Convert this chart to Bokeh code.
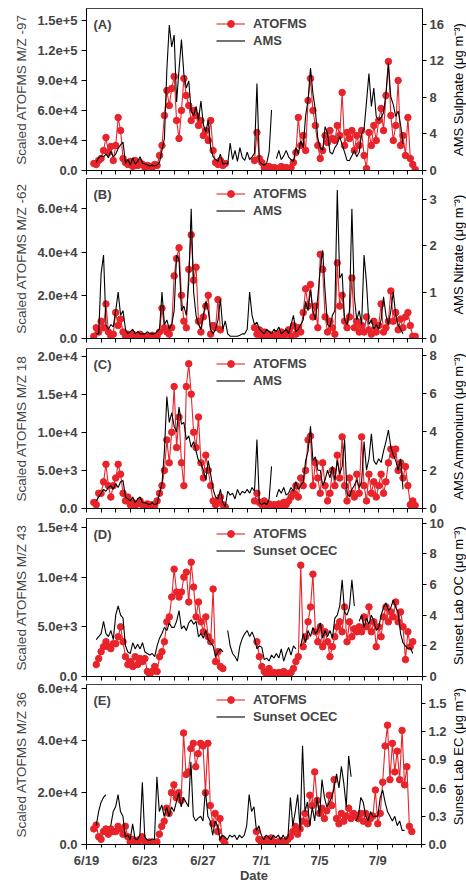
import numpy as np
from bokeh.plotting import figure
from bokeh.models import Range1d, LinearAxis, FixedTicker, Legend, LegendItem, Label
from bokeh.core.properties import value
from bokeh.layouts import column, row
from bokeh.embed import file_html
from bokeh.resources import INLINE

nan = float("nan")

# sampling: days since 6/19 00:00, every 4 h from 6/19 12:00
t_start_day = 0.5
t_step_day = 1.0 / 6.0

x_tick_pos = [0, 4, 8, 12, 16, 20]
x_tick_labels = ["6/19", "6/23", "6/27", "7/1", "7/5", "7/9"]
x_minor_days = list(range(0, 24))

# ---------------- (A) sulphate ----------------
A_atofms = [7000, 6000, 10000,
    12000, 20000, 33000, 18000, 24000, 10000,
    25000, 53000, 40000, 12000, 8000, 6000,
    9000, 4000, 10000, 5000, 8000, 6000,
    3000, 5000, 4000, 3000, 6000, 5000,
    15000, 25000, 55000, 80000, 65000, 82000,
    94000, 50000, 32000, 60000, 92000, 75000,
    65000, 50000, 60000, 55000, 45000, 50000,
    35000, 40000, 30000, 50000, 20000, 8000,
    6000, 10000, 5000, 7000, nan, nan,
    nan, nan, nan, nan, nan, nan,
    nan, nan, nan, 10000, 38000, 12000,
    8000, 3000, 2000, 4000, 1000, 3000,
    2000, 1000, 4000, 2000, 3000, 1000,
    3000, 8000, 18000, 53000, 25000, 35000,
    20000, 70000, 92000, 60000, 45000, 25000,
    12000, 20000, 35000, 28000, 40000, 32000,
    30000, 45000, 35000, 78000, 25000, 38000,
    32000, 40000, 20000, 35000, 25000, 40000,
    15000, 2000, 38000, 25000, 45000, 30000,
    50000, 62000, 40000, 75000, 109000, 55000,
    30000, 45000, 90000, 25000, 35000, 15000,
    53000, 12000, 6000, 1000]
A_ams = [nan, 0.9, 1.4,
    1.6, 1.5, 1.8, 1.4, 2.1, 1.5,
    1.8, 2.4, 2.8, 3.1, 0.8, 1.2,
    0.6, 1.4, 0.7, 1.0, 1.5, 0.8,
    0.7, 0.6, 0.5, 0.6, 0.5, 0.6,
    0.9, 2.2, 3.5, 11.0, 15.9, 13.5,
    14.8, 7.5, 11.0, 14.3, 10.5, 9.0,
    9.8, 6.5, 6.0, 7.0, 5.5, 7.6,
    5.0, 4.2, 5.5, 2.5, 1.5, 1.2,
    1.0, 1.8, 0.7, 0.8, 0.7, 3.0,
    1.2, 2.2, 1.0, 2.5, 1.4, 1.1,
    2.0, 1.2, 1.5, 1.9, 9.5, 1.0,
    0.7, 0.6, 0.8, 2.0, 6.6, nan,
    1.3, 2.2, 1.2, 1.6, 2.2, 1.5,
    1.2, 1.0, 2.5, 1.8, 3.2, 2.5,
    6.0, 7.7, 11.2, 8.4, 6.6, 3.5,
    2.5, 2.2, 4.8, 4.0, 2.0, 1.8,
    2.5, 2.9, 3.7, 2.8, 2.0, 1.1,
    1.1, 1.6, 2.2, 1.5, 2.0, 4.0,
    4.5, 7.5, 10.6, 7.0, 9.0, 5.9,
    5.5, 5.8, 6.3, 8.5, 11.7, 8.0,
    7.2, 5.9, 6.5, 5.0, 2.9, nan,
    nan, nan, nan, nan]

# ---------------- (B) nitrate ----------------
B_atofms = [1000, 5000, 3000,
    8000, 5000, 16000, 3000, 1000, 2000,
    12000, 6000, 9000, 3000, 1000, 2000,
    1000, 2000, 1000, 1500, 2000, 1000,
    500, 1000, 500, 1500, 500, 1000,
    3000, 14000, 5000, 3000, 2000, 5000,
    29000, 37000, 42000, 20000, 8000, 5000,
    32000, 48000, 27000, 33000, 8000, 3000,
    10000, 15000, 20000, 2000, 6000, 5000,
    18000, 4000, nan, nan, nan, nan,
    nan, nan, nan, nan, nan, nan,
    nan, nan, nan, 5000, 2000, 4000,
    1000, 3000, 1000, 2000, 500, 1000,
    2000, 1000, 3000, 1500, 2000, 4000,
    1000, 6000, 2000, 5000, 3000, 12000,
    23000, 15000, 25000, 10000, 15000, 5000,
    39000, 32000, 10000, 3000, 8000, 5000,
    2000, 35000, 15000, 20000, 8000, 5000,
    10000, 28000, 5000, 8000, 3000, 6000,
    3000, 10000, 4000, 2000, 8000, 3000,
    6000, 16000, 3000, 5000, 8000, 22000,
    8000, 12000, 4000, 9000, 5000, 10000,
    12000, 6000, 1000, 1000]
B_ams = [nan, 0.1, 0.1,
    1.4, 1.8, 0.3, 0.2, 0.3, 0.25,
    0.6, 1.0, 0.5, 0.6, 0.2, 0.1,
    0.15, 0.2, 0.1, 0.15, 0.1, 0.1,
    0.1, 0.15, 0.1, 0.1, 0.1, 0.15,
    0.2, 1.0, 0.3, 0.4, 0.2, 0.3,
    0.6, 1.8, 1.7, 0.6, 0.7, 0.5,
    1.2, 2.8, 1.0, 0.5, 0.3, 0.2,
    0.5, 0.8, 0.6, 0.2, 0.1, 0.2,
    0.4, 0.85, 0.2, 0.38, 0.1, 0.05,
    0.05, 0.05, 0.05, 0.07, 0.1, 0.1,
    0.2, 1.0, 0.5, 0.3, 0.35, 0.2,
    0.15, 0.1, 0.2, 0.15, 0.1, 0.2,
    0.15, 0.25, 0.1, 0.15, 0.2, 0.1,
    0.3, 0.5, 0.15, 0.2, 0.3, 0.4,
    0.8, 0.6, 1.05, 0.6, 0.4, 0.9,
    1.5, 1.9, 1.0, 0.3, 0.25, 0.5,
    0.6, 3.2, 1.3, 1.4, 0.4, 0.3,
    0.6, 2.8, 0.9, 0.4, 0.6, 0.3,
    1.8, 1.2, 0.3, 0.4, 0.2, 0.3,
    0.2, 0.4, 0.9, 0.5, 0.3, 0.6,
    1.0, 0.5, 0.3, 0.2, 0.1, nan,
    nan, nan, nan, nan]

# ---------------- (C) ammonium ----------------
C_atofms = [800, 500, 2000,
    2000, 3500, 5800, 3000, 1500, 3000,
    4000, 5800, 4500, 2000, 1000, 1500,
    500, 800, 400, 600, 1000, 500,
    400, 600, 300, 500, 400, 1000,
    2000, 3000, 5000, 9000, 6000, 10000,
    16000, 8000, 12000, 6000, 3000, 16000,
    19000, 15000, 10000, 8000, 12000, 6000,
    4000, 7000, 5000, 3000, 1000, 500,
    1000, 1500, 500, 200, nan, nan,
    nan, nan, nan, nan, nan, nan,
    nan, nan, nan, 1000, 2000, 800,
    500, 1000, 400, 600, 300, 500,
    400, 600, 300, 800, 500, 1000,
    1500, 2000, 3000, 1500, 4000, 3000,
    5000, 9000, 9500, 3000, 6000, 4000,
    2000, 6000, 3000, 1000, 2000, 5000,
    3000, 7000, 4000, 9400, 3000, 1000,
    4000, 2000, 1500, 4500, 2000, 9400,
    3000, 1000, 4500, 2000, 3500, 1500,
    3000, 4500, 2000, 3500, 6000, 7800,
    7000, 7800, 5000, 6000, 4000, 5500,
    3000, 500, 1000, 400]
C_ams = [nan, 0.4, 0.6,
    0.8, 1.0, 0.9, 1.1, 1.2, 1.0,
    1.3, 1.1, 1.4, 1.46, 0.6, 0.5,
    0.4, 0.6, 0.3, 0.5, 0.6, 0.3,
    0.3, 0.25, 0.2, 0.3, 0.2, 0.25,
    0.8, 1.3, 3.0, 5.85, 4.5, 5.0,
    4.3, 4.0, 5.3, 4.4, 4.5, 3.6,
    3.8, 3.2, 3.5, 3.0, 2.5, 2.4,
    2.0, 1.5, 2.5, 1.8, 1.0, 0.6,
    0.5, 1.0, 0.3, 0.1, 0.9, 0.7,
    0.8, 0.5, 1.0, 0.7, 0.9, 0.8,
    1.0, 0.8, 1.1, 0.9, 3.6, 0.3,
    0.2, 0.3, 0.2, 0.5, 2.2, nan,
    0.6, 1.0, 0.8, 1.1, 0.7, 0.8,
    1.1, 0.9, 1.4, 1.0, 1.2, 1.4,
    2.5, 3.0, 4.3, 2.5, 2.7, 2.0,
    2.0, 1.2, 1.5, 2.0, 1.6, 2.2,
    1.5, 2.5, 1.8, 2.2, 3.6, 0.8,
    0.6, 1.0, 1.2, 1.5, 1.1, 1.4,
    3.5, 2.0, 2.6, 3.9, 2.5, 2.3,
    2.6, 2.4, 3.0, 3.5, 4.1, 3.2,
    2.8, 2.5, 2.0, 2.6, 1.0, nan,
    nan, nan, nan, nan]

# ---------------- (D) organic carbon ----------------
D_atofms = [nan, 1200, 1800,
    2500, 3000, 3500, 3000, 2800, 3300,
    3300, 4000, 5000, 3500, 2000, 1200,
    1500, 1000, 2000, 1200, 1800, 1500,
    1800, 500, 200, 500, 1000, 500,
    2000, 2500, 3500, 5500, 6000, 8000,
    10800, 8500, 8000, 8500, 10000, 10500,
    7500, 11500, 9000, 6000, 7500, 5500,
    4500, 6000, 4000, 3500, 8800, 1500,
    2500, 1000, 800, nan, nan, nan,
    nan, nan, nan, nan, nan, nan,
    nan, nan, nan, nan, 3500, 2000,
    1000, 500, 200, 800, 0, 400,
    300, 400, 200, 500, 300, 200,
    400, 800, 1500, 2000, 11200, 3000,
    4000, 5500, 7000, 10300, 4500, 3500,
    5000, 3000, 4500, 3500, 2000, 3000,
    4000, 5000, 5500, 4500, 7000, 3500,
    5500, 4000, 4800, 4500, 5000, 4500,
    6000, 5000, 7000, 4500, 5500, 3000,
    5000, 4000, 6000, 7000, 5500, 6500,
    6000, 7500, 5500, 6500, 5000, 1700,
    4500, 3000, 3500, nan]
D_oc = [nan, 2.4, 2.6,
    2.8, 3.6, 2.8, 2.6, 3.0, 2.4,
    4.0, 4.6, 4.0, 3.8, 2.0, 1.6,
    1.5, 2.2, 1.8, 2.1, 1.8, 2.2,
    1.6, 1.5, 1.4, 1.5, 1.3, 2.0,
    2.5, 2.8, 3.2, 3.0, 3.5, 3.2,
    3.2, 3.6, 4.3, 3.1, 3.3, 3.0,
    3.5, 3.7, 3.4, 3.6, 2.6, 2.8,
    2.5, 3.0, 2.4, 2.2, 2.0, 1.3,
    1.6, 1.8, 1.6, nan, 3.0, 2.0,
    1.5, 1.3, 1.0, 2.0, 2.5, 2.8,
    3.0, 2.6, 2.9, 2.5, 1.8, 2.0,
    1.9, 1.1, 1.2, 1.0, 1.4, 1.2,
    1.5, 1.2, 1.8, 1.0, 1.5, 1.9,
    1.4, 2.0, 1.8, nan, 2.0, 2.8,
    2.2, 3.0, 2.6, 3.2, 2.8, 3.0,
    3.5, 2.5, 3.0, 2.6, 3.0, 2.5,
    3.8, 4.0, 4.6, 6.3, 4.2, 4.0,
    4.5, 6.3, 4.6, nan, 3.6, 4.0,
    3.2, 3.8, 3.4, 4.0, 3.6, 3.0,
    3.2, 4.0, 4.5, 4.8, 4.3, 4.5,
    5.0, 4.5, 4.2, 2.8, 2.2, 2.0,
    1.8, 1.9, 1.5, nan]

# ---------------- (E) elemental carbon ----------------
E_atofms = [6000, 7500, 3000,
    2000, 5000, 6000, 4000, 6000, 5000,
    5000, 7000, 6000, 4000, 7000, 3000,
    1000, 2000, 1500, 500, 2000, 3000,
    1000, 500, 1000, 500, 200, 1000,
    4000, 7000, 9000, 14000, 12000, 20000,
    23000, 18000, 20000, 17000, 43000, 27000,
    28000, 37000, 39000, 30000, 35000, 39000,
    38000, 20000, 39000, 15000, 8000, 12000,
    5000, 10000, 2000, 500, nan, nan,
    nan, nan, nan, nan, nan, nan,
    nan, nan, nan, nan, 5000, 2000,
    1000, 500, 2000, 800, 2500, 1000,
    500, 1000, 1500, 500, 1000, 2000,
    3000, 5000, 7000, 4000, 6000, 9000,
    12000, 8000, 19000, 15000, 28000, 17000,
    12000, 14000, 10000, 13000, 19000, 15000,
    25000, 10000, 8000, 12000, 9000, 11000,
    14000, 10000, 12000, 11000, 10000, 12000,
    9000, 12000, 8000, 10000, 11000, 21000,
    8000, 12000, 24000, 38000, 46000, 25000,
    39000, 28000, 36000, 25000, 44000, 23000,
    30000, 7000, 5000, nan]
E_ec = [nan, 0.2, 0.35,
    0.45, 0.5, 0.53, nan, 0.2, 0.35,
    0.4, 0.53, 0.35, 0.3, 0.08, 0.1,
    0.05, 0.22, 0.06, 0.05, 0.1, 0.66,
    0.08, 0.05, 0.04, 0.06, 0.05, 0.72,
    0.35, 0.42, 0.3, 0.4, 0.3, 0.4,
    0.35, 0.45, 0.55, 0.4, 0.5, 0.45,
    0.4, 0.88, 0.3, 0.25, 0.28, 0.3,
    0.25, 0.58, 0.3, 0.25, 0.1, 0.25,
    0.2, 0.05, 0.1, 0.08, 0.05, 0.1,
    0.08, 0.1, 0.05, 0.1, 0.07, 0.1,
    0.2, 0.53, 0.35, 0.4, 0.15, 0.2,
    0.1, 0.05, 0.1, 0.08, 0.05, 0.1,
    0.07, 0.1, 0.05, 0.1, 0.05, 0.08,
    0.5, 0.2, 0.35, 0.53, 0.15, 1.05,
    0.35, 0.45, 0.2, 0.4, 0.25, 0.5,
    0.3, 0.69, 0.5, 0.4, 0.45, 0.5,
    0.6, 0.75, 0.6, 0.83, 0.65, 0.4,
    0.94, 0.72, nan, 0.25, 0.3, 0.5,
    0.45, 0.3, 0.25, 0.35, 0.3, 0.3,
    0.3, 0.5, 0.58, 0.45, 0.35, 0.3,
    0.25, 0.3, 0.2, 0.25, 0.15, 0.15,
    nan, nan, nan, nan]

panel_tags = ["(A)", "(B)", "(C)", "(D)", "(E)"]
left_titles = ["Scaled ATOFMS M/Z -97", "Scaled ATOFMS M/Z -62", "Scaled ATOFMS M/Z 18",
               "Scaled ATOFMS M/Z 43", "Scaled ATOFMS M/Z 36"]
right_titles = ["AMS Sulphate (\u03bcg m\u207b\u00b3)", "AMS Nitrate (\u03bcg m\u207b\u00b3)",
                "AMS Ammonium (\u03bcg m\u207b\u00b3)", "Sunset Lab OC (\u03bcg m\u207b\u00b3)",
                "Sunset Lab EC (\u03bcg m\u207b\u00b3)"]
ref_names = ["AMS", "AMS", "AMS", "Sunset OCEC", "Sunset OCEC"]
left_max = [1.62e5, 7.41e4, 2.1e4, 1.59e4, 6.17e4]
right_max = [17.7, 3.45, 8.36, 10.3, 1.70]
left_ticks = [[0, 30000, 60000, 90000, 120000, 150000],
              [0, 20000, 40000, 60000],
              [0, 5000, 10000, 15000, 20000],
              [0, 5000, 10000, 15000],
              [0, 20000, 40000, 60000]]
left_tick_labels = [["0.0", "3.0e+4", "6.0e+4", "9.0e+4", "1.2e+5", "1.5e+5"],
                    ["0.0", "2.0e+4", "4.0e+4", "6.0e+4"],
                    ["0.0", "5.0e+3", "1.0e+4", "1.5e+4", "2.0e+4"],
                    ["0.0", "5.0e+3", "1.0e+4", "1.5e+4"],
                    ["0.0", "2.0e+4", "4.0e+4", "6.0e+4"]]
right_ticks = [[0, 4, 8, 12, 16], [0, 1, 2, 3], [0, 2, 4, 6, 8], [0, 2, 4, 6, 8, 10],
               [0, 0.3, 0.6, 0.9, 1.2, 1.5]]
right_tick_labels = [["0", "4", "8", "12", "16"], ["0", "1", "2", "3"], ["0", "2", "4", "6", "8"],
                     ["0", "2", "4", "6", "8", "10"], ["0.0", "0.3", "0.6", "0.9", "1.2", "1.5"]]
atofms_series = [A_atofms, B_atofms, C_atofms, D_atofms, E_atofms]
ref_series = [A_ams, B_ams, C_ams, D_oc, E_ec]

# layout (pixels)
MAIN_W = 449
STRIP_W = 466 - MAIN_W
fig_h = [178, 168, 169, 168, 202]
border_top = [8, 0, 2, 3, 1]
border_bot = [8, 8, 7, 7, 41]
right_title_shift = [0, 0, 0, 0, -10]

RED = "#e8232a"
FONT = "Liberation Sans"

n = len(A_atofms)
t = t_start_day + np.arange(n) * t_step_day

rows = []
for i in range(5):
    fh = fig_h[i] - border_top[i] - border_bot[i]
    p = figure(width=MAIN_W, height=fig_h[i], x_range=Range1d(0, 23), y_range=Range1d(0, left_max[i]),
               output_backend="svg", toolbar_location=None,
               min_border_left=86, min_border_right=MAIN_W - 422,
               min_border_top=border_top[i], min_border_bottom=border_bot[i])
    p.extra_y_ranges = {"r": Range1d(0, right_max[i])}
    p.xgrid.visible = False
    p.ygrid.visible = False
    p.outline_line_color = "#444444"
    p.background_fill_color = "white"
    p.border_fill_color = "white"

    atof = np.array(atofms_series[i], dtype=float)
    ref = np.array(ref_series[i], dtype=float)
    lr = p.line(t, atof, line_color=RED, line_width=1.1)
    p.scatter(t, atof, size=6.5, fill_color=RED, line_color=RED)
    br = p.line(t, ref, y_range_name="r", line_color="black", line_width=1.1)
    # small marker used only as legend swatch (outside the visible x range)
    sw = p.scatter([-5.0], [0.0], size=5, fill_color=RED, line_color=RED)

    # x axis
    xa = p.xaxis[0]
    xa.major_tick_in = 0
    xa.minor_tick_in = 0
    xa.axis_line_color = "black"
    if i < 4:
        xa.ticker = FixedTicker(ticks=[], minor_ticks=x_minor_days)
        xa.minor_tick_out = 4
    else:
        xa.ticker = FixedTicker(ticks=x_tick_pos, minor_ticks=x_minor_days)
        xa.major_label_overrides = {k: v for k, v in zip(x_tick_pos, x_tick_labels)}
        xa.major_tick_out = 5
        xa.minor_tick_out = 3
        xa.major_label_text_font = FONT
        xa.major_label_text_font_style = "bold"
        xa.major_label_text_font_size = "13px"
        xa.major_label_standoff = 3
        xa.axis_label = "Date"
        xa.axis_label_text_font = FONT
        xa.axis_label_text_font_size = "13px"
        xa.axis_label_text_font_style = "bold"
        xa.axis_label_standoff = -3

    # left axis
    ya = p.yaxis[0]
    ya.ticker = FixedTicker(ticks=left_ticks[i], minor_ticks=[])
    ya.major_label_overrides = {k: v for k, v in zip(left_ticks[i], left_tick_labels[i])}
    ya.major_tick_out = 5
    ya.major_tick_in = 0
    ya.axis_line_color = "black"
    ya.major_label_text_font = FONT
    ya.major_label_text_font_size = "13px"
    ya.major_label_text_font_style = "bold"
    ya.major_label_standoff = 4
    ya.axis_label = left_titles[i]
    ya.axis_label_text_font = FONT
    ya.axis_label_text_font_size = "13.5px"
    ya.axis_label_text_font_style = "normal"
    ya.axis_label_standoff = 5

    # right axis (ticks and numbers; its title is drawn in the strip beside it)
    ra = LinearAxis(y_range_name="r", ticker=FixedTicker(ticks=right_ticks[i], minor_ticks=[]))
    ra.major_label_overrides = {k: v for k, v in zip(right_ticks[i], right_tick_labels[i])}
    ra.major_tick_out = 4
    ra.major_tick_in = 0
    ra.axis_line_color = "black"
    ra.major_label_text_font = FONT
    ra.major_label_text_font_size = "13px"
    ra.major_label_text_font_style = "bold"
    ra.major_label_standoff = 3
    p.add_layout(ra, "right")

    legend = Legend(items=[LegendItem(label="ATOFMS", renderers=[lr, sw]),
                           LegendItem(label=ref_names[i], renderers=[br])],
                    location=(130, fh - 7 - 34))
    legend.background_fill_alpha = 0
    legend.border_line_alpha = 0
    legend.label_text_font = FONT
    legend.label_text_font_size = "13px"
    legend.label_text_font_style = "bold"
    legend.glyph_width = 29
    legend.glyph_height = 17
    legend.label_height = 17
    legend.label_standoff = 8
    legend.spacing = 0
    legend.padding = 0
    legend.margin = 0
    p.add_layout(legend)

    p.add_layout(Label(x=7, y=fh - 16, x_units="screen", y_units="screen", text=panel_tags[i],
                       text_font=FONT, text_font_size="13px", text_font_style="bold",
                       text_baseline="middle", text_align="left"))

    # narrow strip carrying the right-hand title, reading bottom-to-top
    s = figure(width=STRIP_W, height=fig_h[i], x_range=Range1d(0, STRIP_W), y_range=Range1d(0, fig_h[i]),
               output_backend="svg", toolbar_location=None, x_axis_location=None, y_axis_location=None,
               min_border_left=0, min_border_right=0, min_border_top=0, min_border_bottom=0)
    s.xgrid.visible = False
    s.ygrid.visible = False
    s.outline_line_color = None
    s.background_fill_color = "white"
    s.border_fill_color = "white"
    s.text(x=[458 - MAIN_W], y=[border_bot[i] + fh / 2 + right_title_shift[i]], text=[right_titles[i]],
           angle=np.pi / 2, text_font=value(FONT), text_font_size="13px", text_align="center",
           text_baseline="middle", text_color="black")
    rows.append(row(p, s, spacing=0))

layout = column(*rows, spacing=0)
open("out.html", "w").write(file_html(layout, INLINE))
